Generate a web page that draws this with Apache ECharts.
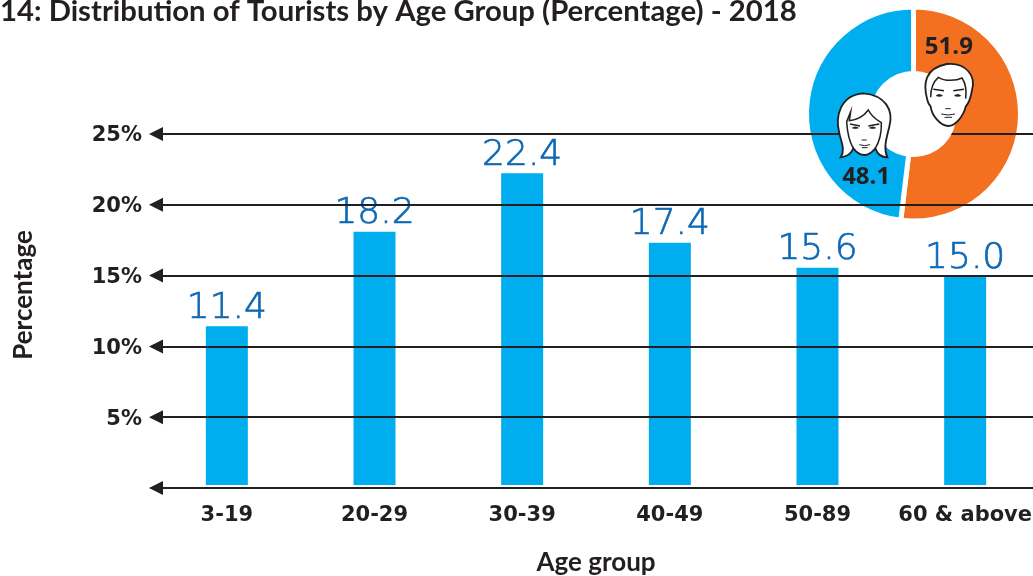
<!DOCTYPE html>
<html><head><meta charset="utf-8">
<style>html,body{margin:0;padding:0;background:#fff;overflow:hidden}#c{width:1033px;height:576px}</style>
<script src="https://cdn.jsdelivr.net/npm/echarts@6/dist/echarts.min.js"></script></head>
<body><div id="c"></div>
<script>
const categories=['3-19','20-29','30-39','40-49','50-89','60 & above'];
const percentages=[11.4,18.2,22.4,17.4,15.6,15.0];
const gridTicks=[0,5,10,15,20,25];
const genderNames=['Male','Female'];
const genderValues=[51.9,48.1];
const titleText='14: Distribution of Tourists by Age Group (Percentage) - 2018';
const ink='#231f20';
const chart=echarts.init(document.getElementById('c'),null,{renderer:'canvas'});
const faceStyle={fill:'#fff',stroke:ink,lineWidth:5.5};
const lineStyle={fill:'none',stroke:ink,lineWidth:4.5};
const darkStyle={fill:ink,stroke:ink,lineWidth:1};
let shapeCount=0;
const P=(d,s)=>{const n='facePath'+(shapeCount++);echarts.graphic.registerShape(n,echarts.graphic.extendPath(d,{}));return {type:n,style:s,z:12};};
const faces={type:'group',x:800,y:0,scaleX:1/3,scaleY:1/3,z:12,children:[
 // male
 P('M382,300C368,250 375,205 440,192C500,186 528,230 516,270C512,295 506,310 497,320C490,350 465,378 445,378C420,378 395,345 392,320C388,315 384,310 382,300Z',faceStyle),
 P('M392,292C392,265 400,245 415,232C435,245 470,242 486,234C496,248 500,270 497,296',lineStyle),
 P('M400,268L432,272M460,272L492,268',lineStyle),
 P('M408,287Q418,279 428,287Q418,292 408,287ZM463,287Q473,279 483,287Q473,292 463,287Z',darkStyle),
 P('M436,326L452,326M424,342Q445,348 465,342M434,352L456,352',{...lineStyle,lineWidth:3}),
 // female
 P('M122,472C136,450 125,430 118,400C105,350 120,285 190,280C255,285 282,330 268,380C258,420 250,445 262,472C245,472 232,462 226,445C215,458 205,465 194,465C180,465 170,458 160,445C155,460 140,470 122,472Z',faceStyle),
 P('M160,445C148,425 142,400 140,365L152,335L148,362C170,360 190,350 205,330C215,350 230,360 244,368C245,400 238,425 226,445',lineStyle),
 P('M150,372L180,378M205,378L238,372',lineStyle),
 P('M156,384Q166,376 176,384Q166,389 156,384ZM208,384Q218,376 228,384Q218,389 208,384Z',darkStyle),
 P('M185,420L200,420M178,434Q194,440 210,434M186,443L203,443',{...lineStyle,lineWidth:3})
]};
chart.setOption({
 animation:false,backgroundColor:'#fff',
 title:{text:titleText,left:-5,top:-8,textStyle:{fontFamily:'Lato',fontWeight:'bold',fontSize:29.3,color:ink}},
 grid:[
  {left:150,right:0,top:134,bottom:88,outerBoundsMode:'none'},
  {left:153,right:-6,top:137,bottom:91,outerBoundsMode:'none'}
 ],
 xAxis:[
  {gridIndex:0,type:'category',show:false,data:categories},
  {gridIndex:1,type:'category',data:categories,axisLine:{show:false},axisTick:{show:false},
   axisLabel:{interval:0,margin:20,fontFamily:'DejaVu Sans',fontWeight:'bold',fontSize:21,color:ink},
   name:'Age group',nameLocation:'middle',nameGap:65,
   nameTextStyle:{fontFamily:'Lato',fontWeight:'bold',fontSize:26,color:ink}}
 ],
 yAxis:[
  {gridIndex:0,type:'value',min:0,max:25,interval:5,splitLine:{show:false},axisLine:{show:false},axisTick:{show:false},
   axisLabel:{margin:8,verticalAlign:'top',lineHeight:4,fontFamily:'DejaVu Sans',fontWeight:'bold',fontSize:21,color:ink,formatter:v=>v===0?'':v+'%'},
   name:'Percentage',nameLocation:'middle',nameGap:113,nameRotate:90,
   nameTextStyle:{fontFamily:'Lato',fontWeight:'bold',fontSize:26,color:ink,padding:[0,0,0,32]}},
  {gridIndex:1,type:'value',min:0,max:25,interval:5,show:false}
 ],
 series:[
  {type:'line',xAxisIndex:0,yAxisIndex:0,data:[],z:1,silent:true,
   markLine:{silent:true,animation:false,symbol:['triangle','none'],symbolSize:[14,14],label:{show:false},
    lineStyle:{color:ink,width:2,type:'solid'},itemStyle:{color:ink},
    data:gridTicks.map(v=>[{yAxis:v,x:156,symbol:'triangle'},{yAxis:v,x:1033}])}},
  {type:'bar',xAxisIndex:1,yAxisIndex:1,data:percentages,barWidth:42,z:3,itemStyle:{color:'#00aeef'},
   label:{show:true,position:'top',distance:0,formatter:p=>p.value.toFixed(1),fontFamily:'DejaVu Sans',fontWeight:200,fontSize:36,color:'#0f68b4',textBorderColor:'#0f68b4',textBorderWidth:0.7}},
  {type:'pie',center:[913.5,114],radius:[40,107],startAngle:90,clockwise:true,z:4,silent:true,
   itemStyle:{borderColor:'#fff',borderWidth:5},labelLine:{show:false},
   label:{position:'inside',fontFamily:'Open Sans',fontWeight:'bold',fontSize:24,color:ink,formatter:'{c}'},
   data:[
    {name:genderNames[0],value:genderValues[0],itemStyle:{color:'#f37021'},label:{offset:[-41,-71]}},
    {name:genderNames[1],value:genderValues[1],itemStyle:{color:'#00aeef'},label:{offset:[29,68]}}
   ]}
 ],
 graphic:{elements:[
  {type:'circle',shape:{cx:913.5,cy:114,r:43},style:{fill:'#fff'},z:11},
  faces
 ]}
});
</script></body></html>
